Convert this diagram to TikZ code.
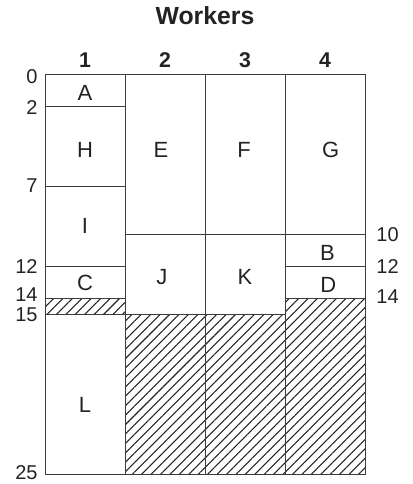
\documentclass[tikz,border=0pt]{standalone}
\usepackage{fontspec}
\setmainfont{Liberation Sans}
\usepackage{tikz}
\usetikzlibrary{patterns.meta}
\definecolor{ink}{RGB}{35, 35, 35}
\definecolor{rule}{RGB}{60, 60, 60}

\begin{document}
\begin{tikzpicture}[x=60pt, y=-12pt, line width=0.7pt,
		lab/.style={font=\fontsize{16.5}{18}\selectfont, color=ink, inner sep=0pt},
		tick/.style={font=\fontsize{15}{17}\selectfont, color=ink, inner sep=0pt},
		head/.style={font=\fontsize{16}{18}\selectfont\bfseries, color=ink, inner sep=0pt},
		idlebox/.style={draw=rule, pattern={Lines[angle=45, distance=5pt, line width=0.8pt]}, pattern color=ink}]
		
		\useasboundingbox (-0.5625,-4.625) rectangle (4.5875,25.625);
		
		% --- HILFSFUNKTIONEN ---
		\newcommand{\job}[6]{ % #1:Spalte, #2:von, #3:bis, #4:Name, #5:x, #6:y
			\draw[draw=rule] (#1-1, #2) rectangle (#1, #3);
			\node[lab] (#4) at (#5, #6) {#4};
		}
		\newcommand{\idle}[3]{ % #1:Spalte, #2:von, #3:bis
			\draw[idlebox] (#1-1, #2) rectangle (#1, #3);
		}
		
		% --- TITEL ---
		\node[font=\fontsize{18.6}{21}\selectfont\bfseries, color=ink, inner sep=0pt] (title) at (2, -3.64) {Workers};
		\foreach \w in {1,...,4}
			\node[head] (w\w) at (\w-0.5, -0.875) {\w};
		
		% --- SPALTE 1 ---
		\job{1}{0}{2}{A}{0.5}{1.19}
		\job{1}{2}{7}{H}{0.5}{4.72}
		\job{1}{7}{12}{I}{0.5}{9.5}
		\job{1}{12}{14}{C}{0.5}{13.06}
		\idle{1}{14}{15}
		\job{1}{15}{25}{L}{0.5}{20.66}
		
		% --- SPALTE 2 ---
		\job{2}{0}{10}{E}{1.45}{4.72}
		\job{2}{10}{15}{J}{1.46}{12.69}
		\idle{2}{15}{25}
		
		% --- SPALTE 3 ---
		\job{3}{0}{10}{F}{2.49}{4.72}
		\job{3}{10}{15}{K}{2.5}{12.69}
		\idle{3}{15}{25}
		
		% --- SPALTE 4 ---
		\job{4}{0}{10}{G}{3.57}{4.72}
		\job{4}{10}{12}{B}{3.53}{11.19}
		\job{4}{12}{14}{D}{3.54}{13.19}
		\idle{4}{14}{25}
		
		% --- ZEITACHSEN ---
		\foreach \t/\y in {0/0.19,2/2.1,7/7,12/12.05,14/13.8,15/15.02,25/24.9}
			\node[tick, anchor=east] (tl\t) at (-0.0875, \y) {\t};
		\foreach \t/\y in {10/10.06,12/12.06,14/13.9}
			\node[tick, anchor=west] (tr\t) at (4.1375, \y) {\t};
		
	\end{tikzpicture}
\end{document}
